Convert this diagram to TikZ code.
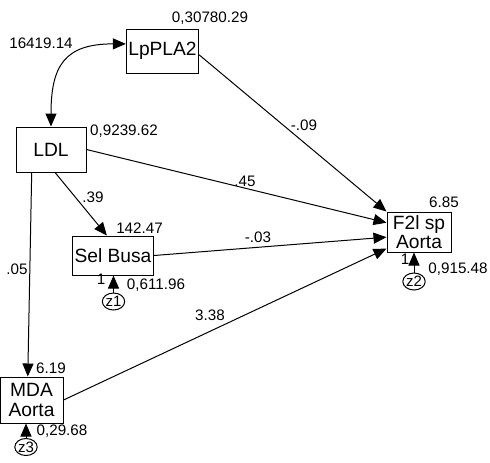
\documentclass[tikz,border=0pt]{standalone}
\usepackage{fontspec}
\setmainfont{Liberation Sans}
\usetikzlibrary{positioning, arrows.meta, shapes.geometric}

\begin{document}
\begin{tikzpicture}[
    x=0.5pt, y=-0.5pt,
    >={Triangle[length=6.5pt, width=5.5pt]},
    varbox/.style={draw, rectangle, inner sep=1pt, align=center, font=\fontsize{9.6}{9.8}\selectfont, line width=0.5pt},
    errnode/.style={draw, ellipse, inner sep=0pt, minimum width=10.5pt, minimum height=8.5pt, font=\fontsize{7.5}{8}\selectfont, line width=0.5pt},
    txt/.style={inner sep=0pt, font=\fontsize{7.6}{9}\selectfont},
    patharrow/.style={->, line width=0.5pt}
]

% fixed frame of the picture
\useasboundingbox (0,0) rectangle (490,462);

% Observed variables
\node[varbox, minimum width=35.5pt, minimum height=22pt] (lppla2) at (162.5,51) {LpPLA2};
\node[varbox, minimum width=35pt, minimum height=22.5pt] (ldl) at (51,149.5) {LDL};
\node[varbox, minimum width=39pt, minimum height=19.5pt] (selbusa) at (113,255.5) {Sel Busa};
\node[varbox, minimum width=32pt, minimum height=20pt] (f2l) at (419,232) {F2l sp\\Aorta};
\node[varbox, minimum width=31.5pt, minimum height=23pt] (mda) at (31.5,400) {MDA\\Aorta};

% Error terms
\node[errnode] (z1) at (113.5,301.5) {z1};
\node[errnode] (z2) at (414,281.5) {z2};
\node[errnode] (z3) at (26,447) {z3};

% Variances and intercepts
\node[txt] (var_lppla2) at (210,18) {0,30780.29};
\node[txt] (cov_ldl) at (41,43) {16419.14};
\node[txt] (var_ldl) at (124,131) {0,9239.62};
\node[txt] (int_sel) at (139.5,228) {142.47};
\node[txt] (int_f2l) at (444,202) {6.85};
\node[txt] (int_mda) at (51,368) {6.19};
\node[txt] (var_z1) at (156,285) {0,611.96};
\node[txt] (var_z2) at (458,269) {0,915.48};
\node[txt] (var_z3) at (62,431) {0,29.68};
\node[txt] (one_z1) at (101,279) {1};
\node[txt] (one_z2) at (405,259) {1};

% Path weights
\node[txt] (w_lp) at (304,125) {-.09};
\node[txt] (w_ldl) at (245,181) {.45};
\node[txt] (w_sel) at (93,197) {.39};
\node[txt] (w_self) at (258,237) {-.03};
\node[txt] (w_mda) at (17,269) {.05};
\node[txt] (w_mdaf) at (210,315) {3.38};

% Covariance
\draw[<->, line width=0.5pt, looseness=1.4] (ldl.north) to[out=90, in=180] (lppla2.169);

% Regression paths
\draw[patharrow] (lppla2.-6) -- (f2l.north west);
\draw[patharrow] (ldl.east) -- (f2l.164);
\draw[patharrow] (ldl.-80) -- (selbusa.107);
\draw[patharrow] (ldl.230) -- (mda.99);
\draw[patharrow] (selbusa.east) -- (f2l.189);
\draw[patharrow] (mda.east) -- (f2l.207);

% Error paths
\draw[patharrow] (z1) -- (z1 |- selbusa.south);
\draw[patharrow] (z2) -- (z2 |- f2l.south);
\draw[patharrow] (z3) -- (z3 |- mda.south);

\end{tikzpicture}
\end{document}
